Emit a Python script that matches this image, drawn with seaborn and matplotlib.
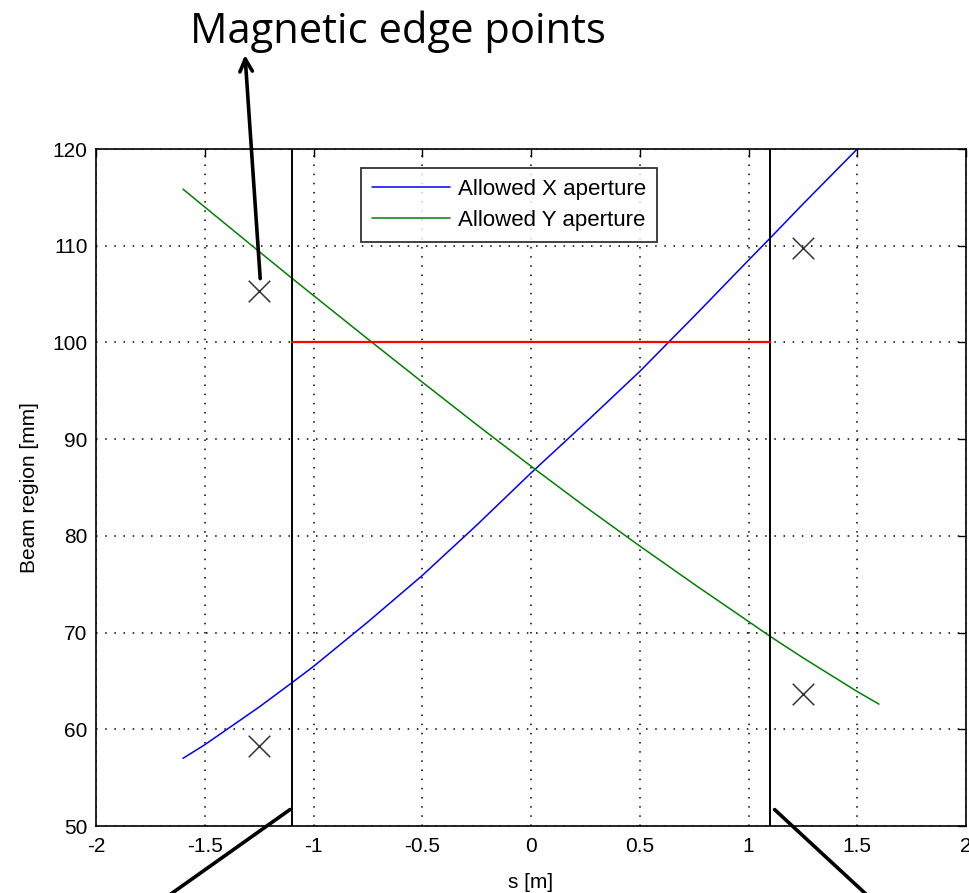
import matplotlib
matplotlib.use("Agg")
import matplotlib.pyplot as plt
import seaborn as sns
import pandas as pd

# ---- data ----
s_x = [-1.6, -1.5, -1.25, -1.1, -1.0, -0.75, -0.5, -0.25, 0.0, 0.25, 0.5, 0.75, 1.0, 1.1, 1.25, 1.5]
ap_x = [57.0, 58.4, 62.3, 64.8, 66.5, 71.1, 75.9, 81.1, 86.5, 91.7, 97.0, 102.7, 108.5, 110.8, 114.3, 120.0]
s_y = [-1.6, -1.5, -1.25, -1.1, -1.0, -0.75, -0.5, -0.25, 0.0, 0.25, 0.5, 0.75, 1.0, 1.1, 1.25, 1.5, 1.6]
ap_y = [115.85, 114.0, 109.4, 106.65, 104.85, 100.35, 95.9, 91.5, 87.2, 83.0, 78.95, 75.0, 71.15, 69.6, 67.4, 63.9, 62.6]
edge_s = [-1.25, 1.25, 1.25, -1.25]
edge_v = [105.3, 109.8, 63.6, 58.3]
magnet_bounds = [-1.1, 1.1]
limit_level = 100
x_ticks = [-2, -1.5, -1, -0.5, 0, 0.5, 1, 1.5, 2]
x_ticklabels = ["-2", "-1.5", "-1", "-0.5", "0", "0.5", "1", "1.5", "2"]
y_ticks = [50, 60, 70, 80, 90, 100, 110, 120]

sns.set_style("white")
plt.rcParams["font.family"] = ["Liberation Sans", "DejaVu Sans"]
plt.rcParams["text.color"] = "black"
plt.rcParams["axes.labelcolor"] = "black"

fig = plt.figure(figsize=(9.69, 8.93), dpi=100)
ax = fig.add_axes([96/969, 67/893, 870/969, 677/893])

df_x = pd.DataFrame({"s": s_x, "v": ap_x})
df_y = pd.DataFrame({"s": s_y, "v": ap_y})
sns.lineplot(data=df_x, x="s", y="v", ax=ax, color="#0000ff", lw=1.1,
             label="Allowed X aperture", sort=False, estimator=None)
sns.lineplot(data=df_y, x="s", y="v", ax=ax, color="#008000", lw=1.1,
             label="Allowed Y aperture", sort=False, estimator=None)

for b in magnet_bounds:
    ax.axvline(b, color="black", lw=1.4, zorder=3)
ax.plot(magnet_bounds, [limit_level, limit_level], color="#ff0000", lw=1.6, zorder=3)

sns.scatterplot(x=edge_s, y=edge_v, ax=ax, marker="x", s=240, color="#333333",
                linewidth=1.1, zorder=4, legend=False)

ax.set_xlim(-2, 2)
ax.set_ylim(50, 120)
ax.set_xticks(x_ticks)
ax.set_xticklabels(x_ticklabels)
ax.set_yticks(y_ticks)
ax.tick_params(direction="in", length=6, width=1, top=True, right=True,
               labelsize=15, colors="black", pad=6)
ax.tick_params(axis="x", pad=8)
ax.grid(True, color="black", linestyle=(0, (1, 5)), lw=1.1)
for sp in ax.spines.values():
    sp.set_color("black")
    sp.set_linewidth(1.2)
ax.set_xlabel("s [m]", fontsize=15, labelpad=12)
ax.set_ylabel("Beam region [mm]", fontsize=15, labelpad=10)

leg = ax.legend(loc="upper left", bbox_to_anchor=(0.305, 0.972), fontsize=16,
                frameon=True, fancybox=False, handlelength=3.5, handletextpad=0.35,
                borderpad=0.5, labelspacing=0.45, borderaxespad=0)
leg.get_frame().set_edgecolor("black")
leg.get_frame().set_linewidth(1.3)
for t in leg.get_texts():
    t.set_color("black")

# annotations
fig.text(398/969, 1 - 43/893, "Magnetic edge points", ha="center", va="baseline",
         fontsize=30, color="black", family=["Open Sans", "DejaVu Sans"])
ax.annotate("", xy=(245, 893 - 55), xycoords="figure pixels",
            xytext=(-1.245, 106.6), textcoords="data",
            arrowprops=dict(arrowstyle="->,head_length=0.9,head_width=0.45",
                            lw=2.6, color="black", shrinkA=0, shrinkB=0),
            annotation_clip=False)
ax.annotate("", xy=(-1.108, 51.7), xycoords="data",
            xytext=(168, -3), textcoords="figure pixels",
            arrowprops=dict(arrowstyle="-", lw=2.6, color="black", shrinkA=0, shrinkB=0),
            annotation_clip=False)
ax.annotate("", xy=(1.12, 51.7), xycoords="data",
            xytext=(868, -3), textcoords="figure pixels",
            arrowprops=dict(arrowstyle="-", lw=2.6, color="black", shrinkA=0, shrinkB=0),
            annotation_clip=False)

fig.savefig("out.png", dpi=100)
